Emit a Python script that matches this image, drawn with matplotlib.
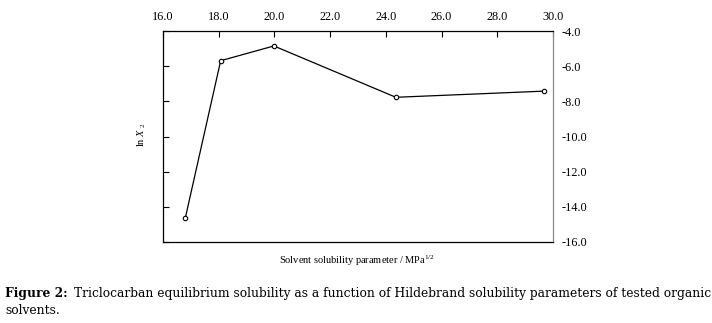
import matplotlib
matplotlib.use("Agg")
import matplotlib.pyplot as plt

solubility_param = [16.8, 18.07, 19.98, 24.36, 29.68]
ln_x2 = [-14.64, -5.69, -4.85, -7.77, -7.42]
x_ticks = [16.0, 18.0, 20.0, 22.0, 24.0, 26.0, 28.0, 30.0]
y_ticks = [-4.0, -6.0, -8.0, -10.0, -12.0, -14.0, -16.0]

plt.rcParams['font.family'] = ['Liberation Serif', 'DejaVu Serif']
plt.rcParams['mathtext.fontset'] = 'custom'
plt.rcParams['mathtext.rm'] = 'Liberation Serif'
plt.rcParams['mathtext.it'] = 'Liberation Serif:italic'

fig = plt.figure(figsize=(7.12, 3.23), dpi=100)
ax = fig.add_axes([163/712, 1-242/323, 390/712, 211/323])

ax.plot(solubility_param, ln_x2, color='black', lw=0.9, marker='o', ms=3.2,
        mfc='white', mec='black', mew=0.8)

ax.set_xlim(16, 30)
ax.set_ylim(-16, -4)
ax.set_xticks(x_ticks)
ax.set_xticklabels([f"{v:.1f}" for v in x_ticks])
ax.set_yticks(y_ticks)
ax.set_yticklabels([f"{v:.1f}" for v in y_ticks])

ax.xaxis.tick_top()
ax.tick_params(axis='x', which='both', direction='in', top=True, bottom=False,
               labeltop=True, labelbottom=False, length=4, width=0.8,
               labelsize=8.8, pad=6)
ax.tick_params(axis='y', which='both', direction='in', left=True, right=False,
               labelleft=False, labelright=True, length=4, width=0.8,
               labelsize=8.8, pad=6)

for s in ['left', 'top', 'bottom']:
    ax.spines[s].set_color('black')
    ax.spines[s].set_linewidth(0.9)
ax.spines['right'].set_color('#888888')
ax.spines['right'].set_linewidth(0.9)

fig.text(357/712, 1-261/323, r'Solvent solubility parameter / MPa$^{1/2}$',
         ha='center', va='center', fontsize=7.5)
fig.text(142/712, 1-135/323, r'ln $X$ $_2$', rotation=90,
         ha='center', va='center', fontsize=7.5)

cap_font = ['DejaVu Serif']
fig.text(5/712, 1-294/323, 'Figure 2:', fontweight='bold', fontsize=8.8,
         family=cap_font, ha='left', va='center')
fig.text(74/712, 1-294/323,
         'Triclocarban equilibrium solubility as a function of Hildebrand solubility parameters of tested organic',
         fontsize=8.8, family=cap_font, ha='left', va='center')
fig.text(5/712, 1-311/323, 'solvents.', fontsize=8.8, family=cap_font,
         ha='left', va='center')

fig.savefig('out.png', dpi=100)
